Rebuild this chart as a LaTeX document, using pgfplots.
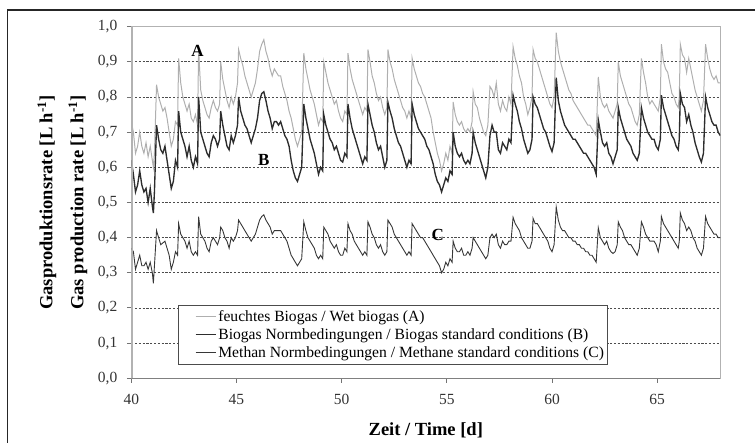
\documentclass[border=0pt]{standalone}
\usepackage{fontspec}
\setmainfont{Liberation Serif}
\usepackage{pgfplots}
\pgfplotsset{compat=1.18}
\usepackage{pgfplotstable}
\definecolor{cA}{RGB}{175,175,175}
\definecolor{cB}{RGB}{45,45,45}
\definecolor{cC}{RGB}{55,55,55}
\definecolor{axgray}{RGB}{178,178,178}

\pgfplotstableread{
x A B C
40.0 0.73 0.62 0.37
40.1 0.70 0.58 0.36
40.2 0.64 0.53 0.31
40.3 0.66 0.55 0.33
40.4 0.70 0.59 0.35
40.5 0.66 0.55 0.32
40.6 0.64 0.53 0.32
40.7 0.67 0.54 0.33
40.8 0.63 0.50 0.31
40.9 0.66 0.54 0.33
41.0 0.62 0.49 0.30
41.05 0.60 0.47 0.27
41.1 0.64 0.53 0.32
41.2 0.835 0.72 0.42
41.3 0.80 0.68 0.40
41.4 0.78 0.65 0.38
41.5 0.76 0.64 0.385
41.6 0.77 0.66 0.39
41.7 0.74 0.62 0.37
41.8 0.70 0.58 0.35
41.9 0.66 0.54 0.31
42.0 0.68 0.56 0.33
42.1 0.73 0.62 0.36
42.2 0.72 0.60 0.35
42.25 0.91 0.76 0.44
42.35 0.84 0.70 0.41
42.45 0.80 0.68 0.40
42.55 0.78 0.66 0.39
42.65 0.76 0.63 0.37
42.75 0.78 0.66 0.39
42.85 0.74 0.62 0.36
42.95 0.73 0.60 0.35
43.05 0.75 0.63 0.36
43.15 0.72 0.61 0.35
43.2 0.935 0.80 0.46
43.3 0.82 0.70 0.41
43.4 0.79 0.68 0.40
43.5 0.77 0.66 0.39
43.6 0.75 0.64 0.37
43.7 0.74 0.63 0.36
43.8 0.77 0.67 0.39
43.9 0.79 0.69 0.40
44.0 0.77 0.68 0.39
44.1 0.76 0.66 0.38
44.2 0.78 0.68 0.40
44.25 0.90 0.76 0.43
44.35 0.85 0.72 0.42
44.45 0.82 0.69 0.40
44.55 0.79 0.66 0.39
44.65 0.77 0.65 0.37
44.75 0.80 0.69 0.40
44.85 0.78 0.67 0.39
44.95 0.80 0.69 0.40
45.05 0.84 0.72 0.42
45.1 0.935 0.80 0.45
45.2 0.91 0.76 0.44
45.3 0.89 0.74 0.43
45.4 0.86 0.72 0.42
45.5 0.84 0.71 0.41
45.6 0.82 0.69 0.40
45.7 0.80 0.67 0.39
45.8 0.82 0.69 0.40
45.9 0.84 0.71 0.41
46.0 0.88 0.74 0.43
46.1 0.93 0.79 0.45
46.2 0.95 0.81 0.46
46.3 0.963 0.815 0.465
46.4 0.93 0.79 0.45
46.5 0.91 0.76 0.44
46.6 0.88 0.74 0.43
46.7 0.86 0.71 0.41
46.8 0.88 0.73 0.42
46.9 0.87 0.73 0.42
47.0 0.86 0.72 0.42
47.1 0.86 0.73 0.42
47.2 0.83 0.71 0.41
47.3 0.81 0.69 0.40
47.4 0.79 0.68 0.39
47.5 0.76 0.66 0.37
47.6 0.74 0.62 0.35
47.7 0.71 0.59 0.34
47.8 0.68 0.57 0.33
47.9 0.66 0.56 0.32
48.0 0.68 0.58 0.33
48.1 0.70 0.60 0.34
48.2 0.925 0.78 0.445
48.3 0.88 0.74 0.42
48.4 0.85 0.71 0.40
48.5 0.82 0.68 0.39
48.6 0.80 0.66 0.38
48.7 0.78 0.64 0.37
48.8 0.75 0.61 0.35
48.9 0.72 0.58 0.34
49.0 0.74 0.60 0.35
49.1 0.73 0.59 0.34
49.15 0.90 0.75 0.43
49.25 0.87 0.72 0.42
49.35 0.84 0.70 0.41
49.45 0.82 0.68 0.39
49.55 0.80 0.67 0.38
49.65 0.78 0.65 0.37
49.75 0.79 0.66 0.38
49.85 0.76 0.64 0.36
49.95 0.74 0.62 0.35
50.05 0.73 0.615 0.35
50.15 0.76 0.64 0.37
50.25 0.75 0.63 0.36
50.3 0.925 0.78 0.44
50.4 0.88 0.74 0.42
50.5 0.85 0.71 0.41
50.6 0.83 0.69 0.39
50.7 0.81 0.67 0.38
50.8 0.79 0.65 0.37
50.9 0.77 0.63 0.36
51.0 0.75 0.61 0.35
51.1 0.77 0.63 0.36
51.2 0.76 0.62 0.35
51.25 0.935 0.78 0.445
51.35 0.90 0.75 0.43
51.45 0.86 0.72 0.41
51.55 0.84 0.70 0.40
51.65 0.81 0.67 0.38
51.75 0.79 0.65 0.37
51.85 0.80 0.66 0.38
51.95 0.77 0.63 0.36
52.05 0.75 0.60 0.35
52.15 0.77 0.62 0.36
52.2 0.935 0.785 0.45
52.3 0.90 0.76 0.44
52.4 0.88 0.74 0.43
52.5 0.85 0.71 0.41
52.6 0.83 0.69 0.40
52.7 0.81 0.67 0.39
52.8 0.79 0.66 0.38
52.9 0.77 0.64 0.37
53.0 0.76 0.62 0.36
53.1 0.74 0.60 0.35
53.2 0.76 0.62 0.36
53.3 0.74 0.61 0.35
53.35 0.91 0.78 0.44
53.45 0.88 0.75 0.43
53.55 0.86 0.73 0.42
53.65 0.84 0.71 0.41
53.75 0.83 0.70 0.40
53.85 0.81 0.69 0.40
53.95 0.80 0.68 0.39
54.05 0.78 0.66 0.38
54.15 0.76 0.65 0.37
54.25 0.74 0.63 0.36
54.35 0.70 0.61 0.35
54.45 0.67 0.58 0.34
54.55 0.64 0.56 0.33
54.65 0.62 0.55 0.32
54.75 0.59 0.53 0.30
54.85 0.61 0.55 0.31
54.95 0.64 0.57 0.33
55.05 0.62 0.56 0.32
55.15 0.66 0.59 0.34
55.25 0.64 0.58 0.33
55.3 0.786 0.70 0.39
55.4 0.75 0.66 0.37
55.5 0.73 0.64 0.36
55.6 0.72 0.63 0.36
55.7 0.73 0.64 0.37
55.8 0.71 0.62 0.35
55.9 0.70 0.61 0.35
56.0 0.71 0.62 0.36
56.1 0.70 0.61 0.35
56.2 0.73 0.64 0.37
56.25 0.815 0.70 0.40
56.35 0.78 0.67 0.39
56.45 0.77 0.65 0.38
56.55 0.74 0.63 0.37
56.65 0.72 0.61 0.36
56.75 0.70 0.59 0.35
56.85 0.69 0.57 0.34
56.95 0.72 0.60 0.35
57.05 0.83 0.69 0.40
57.15 0.82 0.72 0.41
57.25 0.80 0.70 0.40
57.35 0.84 0.70 0.41
57.45 0.78 0.65 0.38
57.55 0.76 0.64 0.37
57.65 0.79 0.67 0.39
57.75 0.77 0.66 0.38
57.85 0.76 0.65 0.38
57.95 0.80 0.68 0.39
58.05 0.78 0.67 0.39
58.15 0.943 0.805 0.458
58.25 0.91 0.78 0.44
58.35 0.89 0.76 0.43
58.45 0.86 0.73 0.42
58.55 0.84 0.71 0.40
58.65 0.80 0.68 0.39
58.75 0.78 0.66 0.38
58.85 0.75 0.64 0.37
58.95 0.77 0.65 0.37
59.05 0.80 0.68 0.39
59.1 0.935 0.80 0.455
59.2 0.91 0.78 0.44
59.3 0.90 0.77 0.44
59.4 0.88 0.75 0.43
59.5 0.86 0.73 0.42
59.6 0.84 0.71 0.41
59.7 0.82 0.70 0.40
59.8 0.80 0.68 0.39
59.9 0.78 0.66 0.37
60.0 0.77 0.645 0.36
60.1 0.80 0.67 0.38
60.2 0.983 0.855 0.487
60.3 0.93 0.79 0.45
60.4 0.90 0.76 0.43
60.5 0.88 0.74 0.42
60.6 0.86 0.72 0.42
60.7 0.84 0.71 0.41
60.8 0.82 0.70 0.40
60.9 0.81 0.69 0.40
61.0 0.79 0.68 0.39
61.1 0.78 0.68 0.39
61.2 0.77 0.67 0.38
61.3 0.76 0.66 0.38
61.4 0.75 0.65 0.37
61.5 0.74 0.64 0.37
61.6 0.73 0.64 0.36
61.7 0.72 0.63 0.36
61.8 0.72 0.62 0.35
61.9 0.71 0.61 0.35
62.0 0.70 0.60 0.34
62.1 0.69 0.58 0.33
62.2 0.857 0.735 0.428
62.3 0.80 0.70 0.40
62.4 0.78 0.67 0.39
62.5 0.77 0.66 0.38
62.6 0.78 0.67 0.39
62.7 0.76 0.64 0.37
62.8 0.75 0.63 0.36
62.9 0.74 0.61 0.355
63.0 0.76 0.63 0.36
63.1 0.78 0.65 0.38
63.15 0.90 0.77 0.445
63.25 0.86 0.74 0.43
63.35 0.84 0.72 0.42
63.45 0.82 0.70 0.40
63.55 0.80 0.68 0.39
63.65 0.78 0.67 0.38
63.75 0.77 0.66 0.38
63.85 0.75 0.64 0.37
63.95 0.73 0.63 0.36
64.05 0.72 0.62 0.35
64.15 0.75 0.64 0.37
64.25 0.91 0.77 0.445
64.35 0.87 0.74 0.43
64.45 0.84 0.72 0.41
64.55 0.80 0.70 0.40
64.65 0.78 0.69 0.39
64.75 0.79 0.68 0.39
64.85 0.78 0.68 0.39
64.95 0.77 0.66 0.38
65.05 0.76 0.65 0.36
65.15 0.80 0.68 0.39
65.2 0.95 0.805 0.46
65.3 0.90 0.77 0.44
65.4 0.88 0.75 0.43
65.5 0.87 0.73 0.42
65.6 0.84 0.71 0.41
65.7 0.81 0.69 0.40
65.8 0.80 0.68 0.39
65.9 0.78 0.66 0.38
66.0 0.77 0.65 0.37
66.05 0.80 0.68 0.39
66.1 0.95 0.81 0.47
66.2 0.92 0.78 0.45
66.3 0.91 0.77 0.44
66.4 0.87 0.73 0.42
66.5 0.91 0.75 0.43
66.6 0.88 0.72 0.42
66.7 0.85 0.70 0.40
66.8 0.82 0.67 0.39
66.9 0.80 0.65 0.37
67.0 0.78 0.63 0.36
67.1 0.76 0.615 0.35
67.2 0.79 0.64 0.37
67.3 0.95 0.80 0.46
67.4 0.91 0.77 0.44
67.5 0.88 0.75 0.43
67.6 0.86 0.73 0.42
67.7 0.85 0.72 0.41
67.8 0.86 0.72 0.41
67.9 0.84 0.70 0.40
68.0 0.84 0.69 0.40
}\gasdata

\begin{document}
\begin{tikzpicture}
\useasboundingbox (-131.3pt,-64.7pt) rectangle (623.7pt,378.3pt);
\draw[black!85, line width=1.5pt] (-124pt,-80pt) -- (-124pt,368.3pt) -- (640pt,368.3pt);
\begin{axis}[
  scale only axis, width=589pt, height=351.6pt,
  xmin=40, xmax=68, ymin=0, ymax=1,
  xtick={40,45,50,55,60,65},
  ytick={0,0.1,0.2,0.3,0.4,0.5,0.6,0.7,0.8,0.9,1.0},
  tick align=outside, xtick pos=bottom, ytick pos=left,
  major tick length=4.5pt,
  tick style={black!55, line width=1pt},
  ymajorgrids,
  grid style={black!70, line width=0.9pt, dash pattern=on 2.2pt off 1.6pt},
  axis line style={axgray, line width=1.2pt},
  /pgf/number format/assume math mode=true,
  tick label style={font=\fontsize{15.5}{18}\selectfont, text=black!80},
  yticklabel style={/pgf/number format/fixed, /pgf/number format/fixed zerofill, /pgf/number format/precision=1, /pgf/number format/use comma, xshift=-6pt},
  xticklabel style={yshift=-8pt},
  every axis y label/.style={at={(axis description cs:-0.1168,0.5)}, rotate=90, anchor=center, align=center, font=\bfseries\fontsize{18.5}{31}\selectfont},
  every axis x label/.style={at={(axis description cs:0.5,-0.147)}, anchor=center, font=\bfseries\fontsize{18.5}{22}\selectfont},
  ylabel={Gasproduktionsrate [L h\textsuperscript{-1}]\\Gas production rate [L h\textsuperscript{-1}]},
  xlabel={Zeit / Time [d]},
  legend style={at={(axis description cs:0.0798,0.2085)}, anchor=north west, draw=black!70, line width=0.8pt, fill=white, font=\fontsize{15.6}{18}\selectfont, row sep=0pt, inner xsep=3pt, inner ysep=2pt, nodes={inner xsep=0pt, inner ysep=2.9pt}, /tikz/every odd column/.append style={column sep=2pt}},
  legend cell align=left,
  legend image code/.code={\path[draw=none] (0pt,0pt) -- (14pt,0pt); \draw[#1] (14pt,0pt) -- (34pt,0pt);},
]
\addplot[cA, line width=1pt] table[x=x, y=A] {\gasdata};
\addlegendentry{feuchtes Biogas / Wet biogas (A)}
\addplot[cB, line width=1.35pt] table[x=x, y=B] {\gasdata};
\addlegendentry{Biogas Normbedingungen / Biogas standard conditions (B)}
\addplot[cC, line width=0.9pt] table[x=x, y=C] {\gasdata};
\addlegendentry{Methan Normbedingungen / Methane standard conditions (C)}
\draw[axgray, line width=1.2pt] (axis cs:40,1) -- (axis cs:68,1);
\draw[axgray, line width=2.6pt] (axis cs:40,0) -- (axis cs:40,1);
\draw[black!50, line width=1.3pt] (axis cs:40,0) -- (axis cs:68,0);
\node[font=\bfseries\fontsize{17}{20}\selectfont] at (axis cs:43.15,0.93) {A};
\node[font=\bfseries\fontsize{17}{20}\selectfont] at (axis cs:46.3,0.62) {B};
\node[font=\bfseries\fontsize{17}{20}\selectfont] at (axis cs:54.57,0.407) {C};
\end{axis}
\end{tikzpicture}
\end{document}
